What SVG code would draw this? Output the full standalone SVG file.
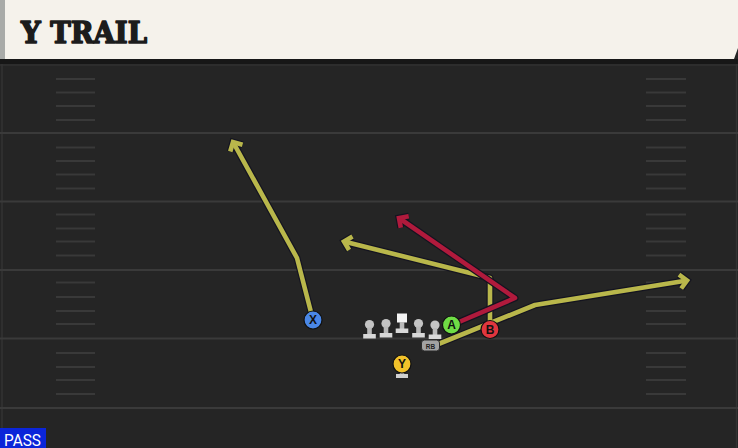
<svg xmlns="http://www.w3.org/2000/svg" xmlns:xlink="http://www.w3.org/1999/xlink" width="738" height="448" viewBox="0 0 738 448">
<style>
.yard{stroke:#3a3a3a;stroke-width:2.2}
.hash{stroke:#393939;stroke-width:2}
.out{fill:none;stroke:#141420;stroke-width:7;stroke-linejoin:round}
.ylw{fill:none;stroke:#b9b74b;stroke-width:4.6;stroke-linejoin:round}
.red{fill:none;stroke:#b01a3c;stroke-width:4.6;stroke-linejoin:round}
.lbl{font-family:"Liberation Sans",Arial,sans-serif;font-weight:bold;font-size:12px;fill:#111;text-anchor:middle}
.ring{stroke:#111;stroke-width:1.2}
</style>
<defs>
<marker id="ao" viewBox="-12 -12 24 24" markerWidth="24" markerHeight="24" markerUnits="userSpaceOnUse" orient="auto" refX="0" refY="0">
<path d="M-7,-7 L0,0 L-7,7" fill="none" stroke="#141420" stroke-width="7" stroke-linejoin="miter"/>
</marker>
<marker id="ay" viewBox="-12 -12 24 24" markerWidth="24" markerHeight="24" markerUnits="userSpaceOnUse" orient="auto" refX="0" refY="0">
<path d="M-7,-7 L0,0 L-7,7" fill="none" stroke="#b9b74b" stroke-width="4.6" stroke-linejoin="miter"/>
</marker>
<marker id="ar" viewBox="-12 -12 24 24" markerWidth="24" markerHeight="24" markerUnits="userSpaceOnUse" orient="auto" refX="0" refY="0">
<path d="M-7,-7 L0,0 L-7,7" fill="none" stroke="#b01a3c" stroke-width="4.6" stroke-linejoin="miter"/>
</marker>
<g id="lineman">
<circle cx="0" cy="0" r="4.6" fill="#c4c4c4"/>
<rect x="-2.3" y="3" width="4.6" height="7" fill="#bababa"/>
<rect x="-6.3" y="9.5" width="12.6" height="4.5" fill="#d8d8d8"/>
</g>
</defs>

<!-- field -->
<rect x="0" y="0" width="738" height="448" fill="#252525"/>
<rect x="0" y="59" width="738" height="5" fill="#171717"/>
<line x1="0" y1="65" x2="738" y2="65" stroke="#303030" stroke-width="1.5"/>
<line x1="2" y1="64" x2="2" y2="428" stroke="#333" stroke-width="1.5"/>
<line x1="736.5" y1="64" x2="736.5" y2="448" stroke="#333" stroke-width="1.5"/>
<g id="yardlines">
<line class="yard" x1="0" y1="133" x2="738" y2="133"/>
<line class="yard" x1="0" y1="201.5" x2="738" y2="201.5"/>
<line class="yard" x1="0" y1="270" x2="738" y2="270"/>
<line class="yard" x1="0" y1="338.5" x2="738" y2="338.5"/>
<line class="yard" x1="0" y1="408" x2="738" y2="408"/>
</g>
<g id="hashes">
<path class="hash" d="M56,79H95M56,92.5H95M56,106H95M56,120H95M56,147.5H95M56,161H95M56,174.5H95M56,188.5H95M56,214.5H95M56,228.5H95M56,241.5H95M56,255.5H95M56,282.5H95M56,297H95M56,311H95M56,324H95M56,353H95M56,367H95M56,380H95M56,394H95"/>
<path class="hash" d="M646,79H686M646,92.5H686M646,106H686M646,120H686M646,147.5H686M646,161H686M646,174.5H686M646,188.5H686M646,214.5H686M646,228.5H686M646,241.5H686M646,255.5H686M646,282.5H686M646,297H686M646,311H686M646,324H686M646,353H686M646,367H686M646,380H686M646,394H686"/>
</g>

<!-- header -->
<g id="header">
<polygon points="5,0 738,0 738,48 734,59 5,59" fill="#f5f2eb"/>
<rect x="0" y="0" width="5" height="59" fill="#a9aba8"/>
<text x="21" y="43" font-family="'DejaVu Serif','Liberation Serif',serif" font-weight="900" font-size="29" fill="#1c1c1c" stroke="#1c1c1c" stroke-width="1.6" stroke-linejoin="round" textLength="126" lengthAdjust="spacingAndGlyphs">Y TRAIL</text>
</g>

<!-- connectors -->
<g id="connectors">
<polyline class="out" points="313,320 297,258 233,142" marker-end="url(#ao)"/>
<polyline class="out" points="490,329 490,278 344,241.5" marker-end="url(#ao)"/>
<polyline class="out" points="436,345 535,305 687,280.5" marker-end="url(#ao)"/>
<polyline class="ylw" points="313,320 297,258 233,142" marker-end="url(#ay)"/>
<polyline class="ylw" points="490,329 490,278 344,241.5" marker-end="url(#ay)"/>
<polyline class="ylw" points="436,345 535,305 687,280.5" marker-end="url(#ay)"/>
<polyline class="out" points="452,325 515,298 399,218" marker-end="url(#ao)"/>
<polyline class="red" points="452,325 515,298 399,218" marker-end="url(#ar)"/>
</g>

<!-- offensive line -->
<g id="lt"><use href="#lineman" x="369.5" y="324.5"/></g>
<g id="lg"><use href="#lineman" x="386" y="323.5"/></g>
<g id="c">
<rect x="397" y="313.5" width="10" height="9" fill="#f4f4f4"/>
<rect x="399.7" y="322" width="4.6" height="7" fill="#bababa"/>
<rect x="395.7" y="328.5" width="12.6" height="4.5" fill="#d8d8d8"/>
</g>
<g id="rg"><use href="#lineman" x="418.5" y="323.5"/></g>
<g id="rt"><use href="#lineman" x="435" y="325"/></g>

<!-- skill players -->
<g id="rb">
<rect x="421.5" y="340" width="18" height="11" rx="3" fill="#a2a2a2" stroke="#2a2a2a" stroke-width="1"/>
<text x="430.5" y="348.5" font-family="'Liberation Sans',Arial,sans-serif" font-weight="bold" font-size="6.5" fill="#222" text-anchor="middle">RB</text>
</g>
<g id="y">
<rect x="399.8" y="372" width="4.4" height="4" fill="#bababa"/>
<rect x="396" y="374" width="12" height="4" fill="#d0d0d0"/>
<circle class="ring" cx="402" cy="364" r="9" fill="#f2c22a"/>
<text class="lbl" x="402" y="368.3">Y</text>
</g>
<g id="x">
<circle class="ring" cx="313" cy="320" r="9" fill="#4a87e6"/>
<text class="lbl" x="313" y="324.3">X</text>
</g>
<g id="a">
<circle class="ring" cx="451.5" cy="325" r="9" fill="#6fdd45"/>
<text class="lbl" x="451.5" y="329.3">A</text>
</g>
<g id="b">
<circle class="ring" cx="490" cy="329.5" r="9" fill="#e0363e"/>
<text class="lbl" x="490" y="333.8">B</text>
</g>

<!-- play type -->
<g id="pass">
<rect x="0" y="428" width="46" height="20" fill="#0b25d9"/>
<text x="4" y="445.5" font-family="Roboto,'Liberation Sans',sans-serif" font-size="17" fill="#ffffff" textLength="37" lengthAdjust="spacingAndGlyphs">PASS</text>
</g>
</svg>
